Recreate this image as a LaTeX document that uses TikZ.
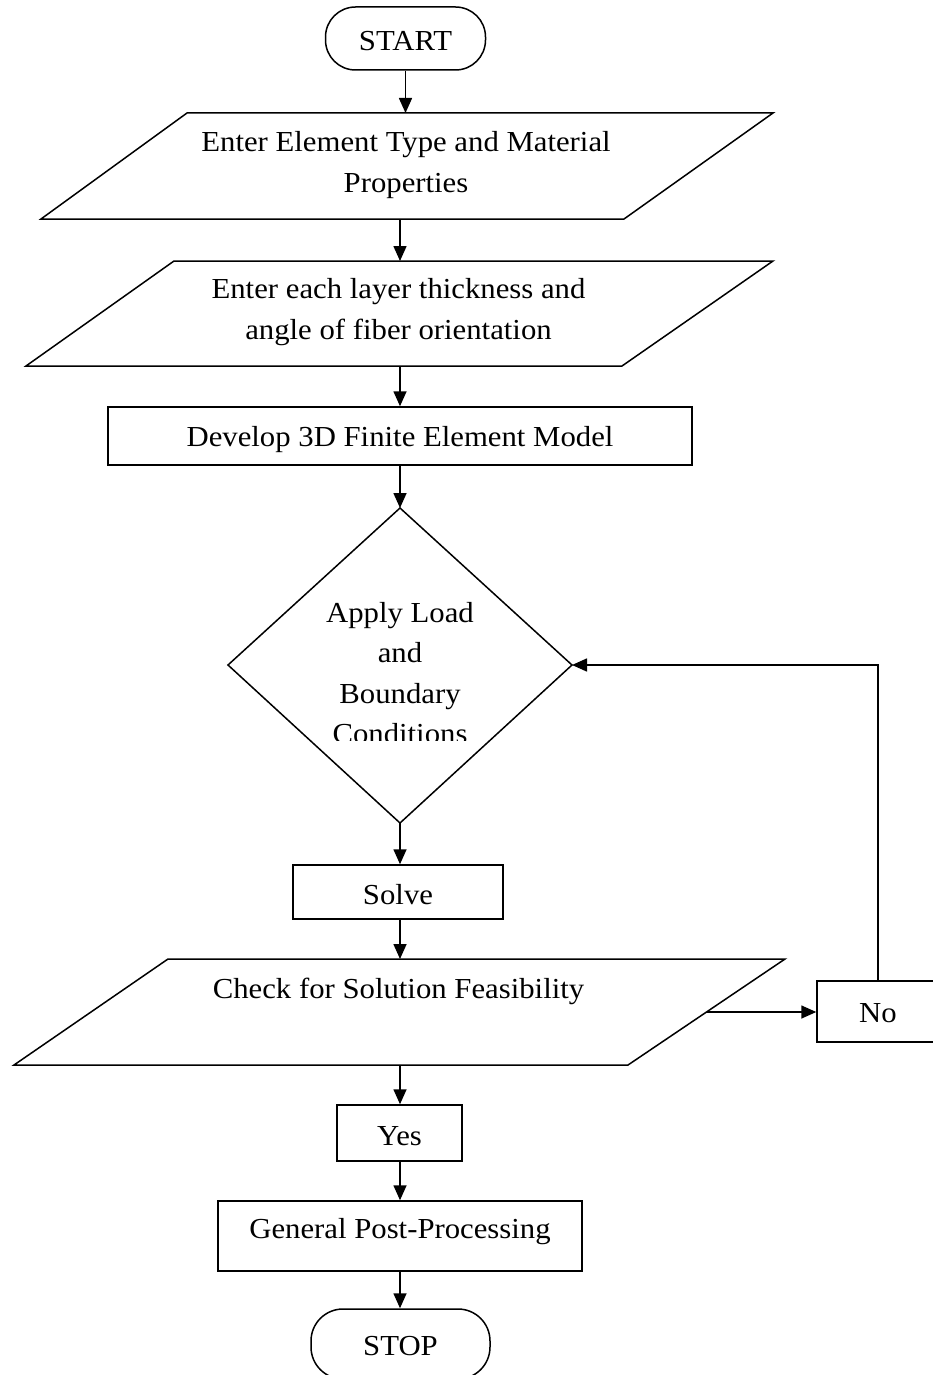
\documentclass[tikz,border=0pt]{standalone}
\usepackage{fontspec}
\setmainfont{Liberation Serif}[FakeStretch=1.06]
\usetikzlibrary{arrows.meta}
\begin{document}
\begin{tikzpicture}[x=1pt,y=-1pt,
  line width=1.5pt,
  frame/.style={draw, line width=1.5pt, inner sep=0pt},
  hidden/.style={inner sep=0pt, outer sep=0pt},
  lbl/.style={font=\fontsize{29}{40.5}\selectfont, align=center, inner sep=0pt},
  flow/.style={-{Triangle[length=15pt,width=13pt]}, line width=1.6pt}]
\useasboundingbox (0,0) rectangle (932,1375);

% terminals and process boxes
\node[frame, rounded corners=30pt, minimum width=160, minimum height=63] (start) at (405.5,38.5) {};
\node[lbl] at (405.5,41) {START};
\node[frame, minimum width=584, minimum height=58] (model) at (400,436) {};
\node[lbl] at (400,439.5) {Develop 3D Finite Element Model};
\node[frame, minimum width=210, minimum height=54] (solve) at (398,892) {};
\node[lbl] at (398,894.5) {Solve};
\node[frame, minimum width=125, minimum height=56] (yes) at (399.5,1133) {};
\node[lbl] at (399.5,1136) {Yes};
\node[frame, minimum width=364, minimum height=70] (post) at (400,1236) {};
\node[lbl] at (400,1232) {General Post-Processing};
\node[frame, rounded corners=32pt, minimum width=179, minimum height=70] (stop) at (400.5,1344) {};
\node[lbl] at (400.5,1346) {STOP};
\node[frame, minimum width=122, minimum height=61] (no) at (878,1011.5) {};
\node[lbl] at (878,1013) {No};

% input parallelograms
\draw (187,113) -- (773,113) -- (624,219) -- (41,219) -- cycle;
\node[hidden, minimum width=10, minimum height=106] (p1) at (406,166) {};
\node[lbl] (t1) at (406,165) {Enter Element Type and Material\\Properties};

\draw (174,261) -- (773,261) -- (622,366) -- (26,366) -- cycle;
\node[hidden, minimum width=10, minimum height=105] (p2) at (400,313.5) {};
\node[lbl] (t2) at (398.5,312) {Enter each layer thickness and\\angle of fiber orientation};

\draw (168,959) -- (785,959) -- (628,1065) -- (14,1065) -- cycle;
\node[hidden, minimum width=10, minimum height=106] (p3) at (400,1012) {};
\node[lbl] (t3) at (398.5,991) {Check for Solution Feasibility};
\coordinate (p3edge) at (706.5,1012);

% decision diamond
\draw (400,508) -- (572,665) -- (400,823) -- (228,665) -- cycle;
\coordinate (dtop) at (400,508);
\coordinate (dright) at (572,665);
\coordinate (dbottom) at (400,823);
\begin{scope}
  \clip (0,0) rectangle (932,740);
  \node[lbl] (dtext) at (400,673) {Apply Load\\and\\Boundary\\Conditions};
\end{scope}

% connectors
\draw[flow] (start.south) -- (start.south |- p1.north);
\draw[flow] (p1.south -| p2.north) -- (p2.north);
\draw[flow] (p2.south) -- (model.north);
\draw[flow] (model.south) -- (dtop);
\draw[flow] (dbottom) -- (dbottom |- solve.north);
\draw[flow] (dbottom |- solve.south) -- (p3.north);
\draw[flow] (p3.south) -- (p3.south |- yes.north);
\draw[flow] (p3.south |- yes.south) -- (post.north);
\draw[flow] (post.south) -- (post.south |- stop.north);
\draw[flow] (p3edge) -- (p3edge -| no.west);
\draw[flow] (no.north) |- (dright);
\end{tikzpicture}
\end{document}
